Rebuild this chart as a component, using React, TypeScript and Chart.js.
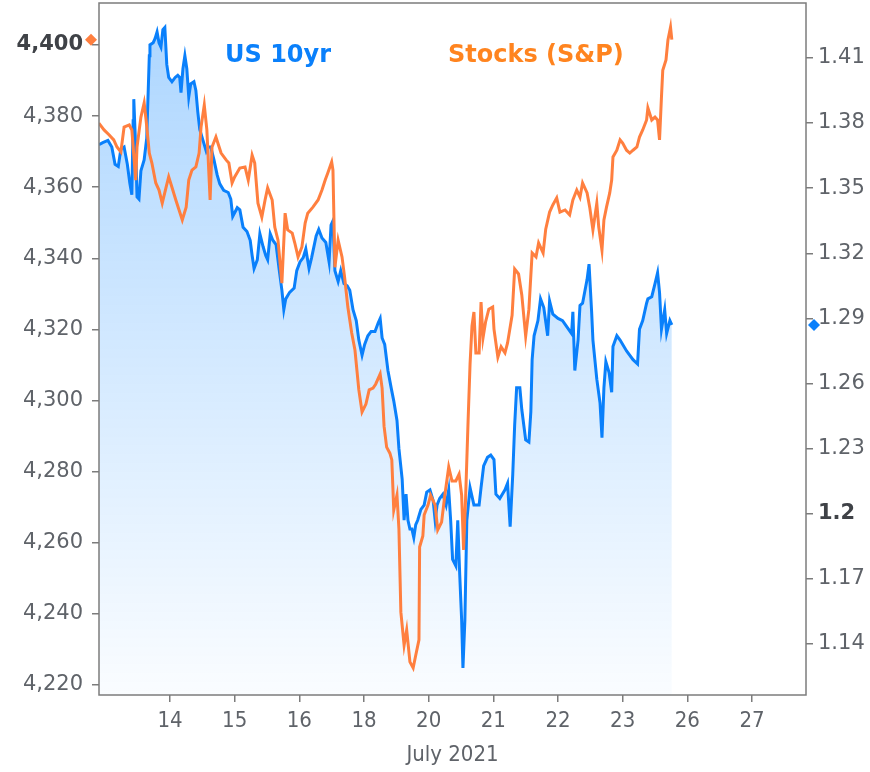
import React, { useEffect, useRef } from 'react';
import { Chart, registerables } from 'chart.js';

Chart.register(...registerables);

// Trading-day positions on the x axis: 0 = "14", 1 = "15", ...
const dayLabels = ['14', '15', '16', '18', '20', '21', '22', '23', '26', '27'];
const axisTitle = 'July 2021';
const seriesNames = ['US 10yr', 'Stocks (S&P)'];

// S&P 500 (left axis): [day position, index level]
const spPoints: [number, number][] = [
  [-1.10, 4378.0], [-1.02, 4376.1], [-0.94, 4374.7], [-0.87, 4373.3], [-0.82, 4371.3], [-0.76, 4369.9], [-0.71, 4376.9], [-0.63, 4377.5], [-0.59, 4376.1], [-0.53, 4362.0],
  [-0.51, 4371.3], [-0.45, 4379.7], [-0.40, 4383.7], [-0.37, 4378.9], [-0.32, 4369.6], [-0.28, 4366.8], [-0.22, 4361.2], [-0.17, 4359.2], [-0.12, 4355.5], [-0.06, 4360.0],
  [-0.02, 4362.9], [0.03, 4360.0], [0.09, 4356.4], [0.14, 4353.6], [0.19, 4350.8], [0.25, 4354.4], [0.29, 4362.0], [0.34, 4364.8], [0.40, 4365.7], [0.45, 4369.6],
  [0.48, 4376.9], [0.53, 4383.1], [0.57, 4376.1], [0.62, 4356.4], [0.65, 4371.3], [0.71, 4374.1], [0.79, 4369.6], [0.87, 4367.6], [0.91, 4366.8], [0.96, 4361.2],
  [1.00, 4362.9], [1.08, 4365.4], [1.16, 4365.7], [1.21, 4362.0], [1.27, 4369.0], [1.31, 4366.8], [1.36, 4355.5], [1.42, 4351.6], [1.47, 4356.4], [1.51, 4359.8],
  [1.58, 4356.4], [1.62, 4348.8], [1.67, 4345.1], [1.73, 4333.0], [1.78, 4352.7], [1.82, 4348.0], [1.89, 4347.1], [1.93, 4344.3], [1.98, 4340.4], [2.04, 4343.2],
  [2.09, 4349.9], [2.13, 4352.7], [2.21, 4354.4], [2.29, 4356.4], [2.35, 4359.2], [2.40, 4362.0], [2.44, 4364.0], [2.50, 4367.1], [2.52, 4364.8], [2.55, 4337.5],
  [2.60, 4345.1], [2.66, 4340.4], [2.70, 4334.7], [2.75, 4326.3], [2.81, 4319.0], [2.86, 4314.2], [2.92, 4303.0], [2.97, 4296.8], [3.03, 4299.0], [3.08, 4303.0],
  [3.14, 4303.5], [3.18, 4304.6], [3.25, 4307.5], [3.28, 4303.5], [3.31, 4292.8], [3.35, 4286.9], [3.40, 4285.2], [3.43, 4283.3], [3.46, 4269.2], [3.51, 4273.4],
  [3.54, 4263.9], [3.57, 4240.5], [3.62, 4231.2], [3.66, 4235.5], [3.71, 4226.5], [3.76, 4224.8], [3.80, 4228.4], [3.85, 4232.7], [3.86, 4258.8], [3.91, 4261.9],
  [3.93, 4267.8], [3.99, 4270.6], [4.03, 4273.4], [4.10, 4270.6], [4.14, 4263.6], [4.20, 4265.8], [4.25, 4273.4], [4.31, 4281.3], [4.36, 4277.4], [4.42, 4277.4],
  [4.47, 4279.3], [4.51, 4273.4], [4.54, 4258.0], [4.57, 4272.0], [4.61, 4294.5], [4.64, 4310.3], [4.67, 4321.0], [4.70, 4324.9], [4.73, 4313.4], [4.78, 4313.4],
  [4.81, 4327.7], [4.84, 4317.6], [4.88, 4322.1], [4.93, 4325.7], [4.99, 4326.3], [5.01, 4320.1], [5.07, 4312.2], [5.12, 4315.1], [5.18, 4313.4], [5.22, 4316.2],
  [5.29, 4324.0], [5.33, 4337.0], [5.39, 4335.6], [5.44, 4329.7], [5.50, 4318.1], [5.55, 4325.7], [5.60, 4341.5], [5.66, 4340.4], [5.70, 4344.3], [5.77, 4341.5],
  [5.81, 4348.2], [5.87, 4353.0], [5.92, 4355.0], [5.98, 4357.0], [6.03, 4353.0], [6.11, 4353.6], [6.18, 4352.2], [6.23, 4356.4], [6.29, 4359.2], [6.34, 4357.2],
  [6.38, 4361.2], [6.45, 4358.4], [6.49, 4354.4], [6.54, 4348.0], [6.60, 4355.5], [6.63, 4348.8], [6.68, 4342.3], [6.71, 4350.8], [6.75, 4354.4], [6.80, 4358.4],
  [6.83, 4362.0], [6.85, 4368.5], [6.91, 4370.4], [6.96, 4373.3], [7.00, 4372.4], [7.06, 4370.4], [7.11, 4369.6], [7.16, 4370.4], [7.22, 4371.3], [7.26, 4374.1],
  [7.31, 4376.1], [7.37, 4378.9], [7.39, 4382.3], [7.45, 4378.9], [7.50, 4379.7], [7.54, 4378.9], [7.57, 4373.3], [7.60, 4385.4], [7.62, 4392.9], [7.67, 4395.8],
  [7.70, 4401.4], [7.74, 4405.0], [7.76, 4401.5],
];

// US 10yr yield (right axis): [day position, yield %]
const tyPoints: [number, number][] = [
  [-1.10, 1.370], [-1.04, 1.371], [-0.96, 1.372], [-0.90, 1.369], [-0.85, 1.361], [-0.80, 1.360], [-0.76, 1.368], [-0.71, 1.369], [-0.66, 1.361], [-0.62, 1.352],
  [-0.59, 1.347], [-0.57, 1.381], [-0.56, 1.391], [-0.53, 1.368], [-0.51, 1.346], [-0.48, 1.345], [-0.45, 1.358], [-0.40, 1.363], [-0.36, 1.373], [-0.32, 1.411],
  [-0.31, 1.416], [-0.26, 1.417], [-0.23, 1.419], [-0.20, 1.422], [-0.17, 1.417], [-0.14, 1.415], [-0.11, 1.423], [-0.08, 1.424], [-0.05, 1.407], [-0.02, 1.401],
  [0.03, 1.399], [0.08, 1.401], [0.12, 1.402], [0.15, 1.401], [0.17, 1.394], [0.20, 1.405], [0.23, 1.411], [0.26, 1.405], [0.29, 1.392], [0.32, 1.398],
  [0.37, 1.399], [0.40, 1.395], [0.43, 1.385], [0.46, 1.377], [0.51, 1.372], [0.56, 1.367], [0.59, 1.369], [0.63, 1.369], [0.68, 1.363], [0.73, 1.356],
  [0.77, 1.352], [0.83, 1.349], [0.90, 1.348], [0.94, 1.345], [0.97, 1.337], [1.04, 1.341], [1.08, 1.340], [1.13, 1.332], [1.19, 1.330], [1.24, 1.326],
  [1.27, 1.319], [1.30, 1.313], [1.35, 1.317], [1.39, 1.329], [1.44, 1.323], [1.48, 1.319], [1.51, 1.317], [1.55, 1.329], [1.59, 1.326], [1.64, 1.324],
  [1.69, 1.312], [1.73, 1.303], [1.76, 1.294], [1.79, 1.299], [1.85, 1.302], [1.92, 1.304], [1.96, 1.312], [2.01, 1.316], [2.06, 1.318], [2.10, 1.322],
  [2.15, 1.313], [2.19, 1.318], [2.26, 1.328], [2.30, 1.331], [2.35, 1.327], [2.41, 1.325], [2.46, 1.316], [2.49, 1.333], [2.52, 1.335], [2.55, 1.312],
  [2.60, 1.307], [2.64, 1.312], [2.69, 1.306], [2.74, 1.305], [2.78, 1.303], [2.83, 1.294], [2.88, 1.289], [2.92, 1.280], [2.97, 1.273], [3.01, 1.278],
  [3.06, 1.282], [3.11, 1.284], [3.17, 1.284], [3.22, 1.288], [3.25, 1.290], [3.28, 1.281], [3.32, 1.278], [3.37, 1.266], [3.42, 1.258], [3.46, 1.252],
  [3.51, 1.243], [3.54, 1.230], [3.59, 1.216], [3.62, 1.197], [3.65, 1.209], [3.68, 1.197], [3.71, 1.193], [3.74, 1.193], [3.77, 1.189], [3.80, 1.195],
  [3.83, 1.197], [3.88, 1.202], [3.93, 1.204], [3.97, 1.210], [4.02, 1.211], [4.07, 1.206], [4.10, 1.197], [4.13, 1.204], [4.17, 1.207], [4.22, 1.209],
  [4.27, 1.204], [4.31, 1.211], [4.34, 1.197], [4.37, 1.179], [4.42, 1.176], [4.45, 1.197], [4.48, 1.172], [4.51, 1.151], [4.53, 1.129], [4.56, 1.151],
  [4.59, 1.197], [4.64, 1.212], [4.70, 1.204], [4.78, 1.204], [4.81, 1.212], [4.85, 1.222], [4.91, 1.226], [4.96, 1.227], [5.01, 1.225], [5.04, 1.209],
  [5.10, 1.207], [5.18, 1.211], [5.22, 1.214], [5.26, 1.194], [5.30, 1.218], [5.33, 1.241], [5.36, 1.258], [5.41, 1.258], [5.44, 1.248], [5.50, 1.234],
  [5.55, 1.233], [5.58, 1.247], [5.60, 1.271], [5.63, 1.282], [5.69, 1.289], [5.73, 1.299], [5.78, 1.295], [5.84, 1.282], [5.87, 1.298], [5.92, 1.292],
  [6.00, 1.290], [6.07, 1.289], [6.14, 1.286], [6.21, 1.283], [6.23, 1.293], [6.26, 1.266], [6.31, 1.280], [6.34, 1.296], [6.38, 1.297], [6.45, 1.308],
  [6.48, 1.315], [6.52, 1.293], [6.54, 1.280], [6.60, 1.262], [6.65, 1.251], [6.68, 1.235], [6.71, 1.258], [6.74, 1.270], [6.79, 1.265], [6.83, 1.256],
  [6.85, 1.277], [6.91, 1.282], [6.96, 1.280], [7.06, 1.275], [7.16, 1.271], [7.23, 1.269], [7.26, 1.285], [7.31, 1.289], [7.37, 1.297], [7.39, 1.299],
  [7.45, 1.300], [7.50, 1.306], [7.54, 1.311], [7.57, 1.302], [7.60, 1.285], [7.65, 1.294], [7.68, 1.283], [7.73, 1.289], [7.76, 1.287],
];

const BLUE = '#0a80fb';
const ORANGE = '#ff7f3f';
const ORANGE_TEXT = '#ff841f';
const LABEL = '#5f6369';
const LABEL_BOLD = '#3f4247';
const FRAME = '#7c7c7c';
const TICK_FONT = "'DejaVu Sans', Verdana, sans-serif";
const X_FONT = "'Liberation Sans Narrow', 'DejaVu Sans Condensed', 'Liberation Sans', sans-serif";

function diamond(ctx: CanvasRenderingContext2D, x: number, y: number, r: number, color: string) {
  ctx.beginPath();
  ctx.moveTo(x, y - r);
  ctx.lineTo(x + r, y);
  ctx.lineTo(x, y + r);
  ctx.lineTo(x - r, y);
  ctx.closePath();
  ctx.fillStyle = color;
  ctx.fill();
}

const fitY = (w: number) => (s: any) => {
  s.width = w;
  s.paddingTop = 0;
  s.paddingBottom = 0;
};

export default function App() {
  const ref = useRef<HTMLCanvasElement>(null);

  useEffect(() => {
    const canvas = ref.current;
    if (!canvas) return;

    const overlay = {
      id: 'overlay',
      afterDraw(chart: any) {
        const { ctx, chartArea: a, scales } = chart;
        ctx.save();
        ctx.strokeStyle = FRAME;
        ctx.lineWidth = 1.5;
        ctx.strokeRect(a.left, a.top, a.right - a.left, a.bottom - a.top);

        ctx.font = "bold 24px 'DejaVu Sans', Verdana, sans-serif";
        ctx.textBaseline = 'alphabetic';
        ctx.textAlign = 'left';
        ctx.fillStyle = BLUE;
        ctx.fillText(seriesNames[0], a.left + 126, a.top + 59);
        ctx.fillStyle = ORANGE_TEXT;
        ctx.fillText(seriesNames[1], a.left + 349, a.top + 59);

        const lastSp = spPoints[spPoints.length - 1][1];
        const lastTy = tyPoints[tyPoints.length - 1][1];
        diamond(ctx, a.left - 8, scales.ySp.getPixelForValue(lastSp), 6, ORANGE);
        diamond(ctx, a.right + 8, scales.yTy.getPixelForValue(lastTy), 6, BLUE);
        ctx.restore();
      },
    };

    const chart = new Chart(canvas, {
      type: 'line',
      data: {
        datasets: [
          {
            label: seriesNames[1],
            data: spPoints.map(([x, y]) => ({ x, y })),
            yAxisID: 'ySp',
            borderColor: ORANGE,
            borderWidth: 3,
            pointRadius: 0,
            tension: 0,
            fill: false,
            order: 0,
          },
          {
            label: seriesNames[0],
            data: tyPoints.map(([x, y]) => ({ x, y })),
            yAxisID: 'yTy',
            borderColor: BLUE,
            borderWidth: 3,
            pointRadius: 0,
            tension: 0,
            fill: 'start',
            backgroundColor: (c: any) => {
              const ch = c.chart;
              const a = ch.chartArea;
              if (!a) return 'rgba(0,128,255,0.2)';
              const g = ch.ctx.createLinearGradient(0, a.top, 0, a.bottom);
              g.addColorStop(0, 'rgba(0,128,255,0.33)');
              g.addColorStop(1, 'rgba(0,128,255,0.02)');
              return g;
            },
            order: 1,
          },
        ],
      },
      options: {
        animation: false,
        responsive: true,
        maintainAspectRatio: false,
        devicePixelRatio: 1,
        parsing: false as any,
        normalized: true,
        layout: { autoPadding: false, padding: { top: 3, left: 0, right: 0, bottom: 0 } },
        plugins: {
          legend: { display: false },
          tooltip: { enabled: false },
        },
        scales: {
          x: {
            type: 'linear',
            min: -1.098,
            max: 9.835,
            afterBuildTicks: (s: any) => {
              s.ticks = dayLabels.map((_, i) => ({ value: i }));
            },
            afterFit: (s: any) => {
              s.height = 77;
              s.paddingLeft = 0;
              s.paddingRight = 0;
            },
            ticks: {
              autoSkip: false,
              maxRotation: 0,
              padding: 6,
              color: LABEL,
              font: { family: X_FONT, size: 22 },
              callback: (v: any) => dayLabels[Math.round(Number(v))] ?? '',
            },
            grid: { drawOnChartArea: false, drawTicks: true, tickLength: 7, color: FRAME, lineWidth: 1.5 },
            border: { display: false },
            title: {
              display: true,
              text: axisTitle,
              color: LABEL,
              font: { family: X_FONT, size: 22 },
              padding: { top: 0, bottom: 4 },
            },
          },
          ySp: {
            type: 'linear',
            position: 'left',
            min: 4217.2,
            max: 4411.8,
            afterFit: fitY(99),
            ticks: {
              stepSize: 20,
              maxTicksLimit: 20,
              includeBounds: false,
              padding: 9,
              color: (c: any) => (c.tick && c.tick.value === 4400 ? LABEL_BOLD : LABEL),
              font: (c: any) => ({
                family: TICK_FONT,
                size: 21,
                weight: c.tick && c.tick.value === 4400 ? 'bold' : 'normal',
              }),
              callback: (v: any) => Number(v).toLocaleString('en-US'),
            },
            grid: { drawOnChartArea: false, drawTicks: true, tickLength: 7, color: FRAME, lineWidth: 1.5 },
            border: { display: false },
          },
          yTy: {
            type: 'linear',
            position: 'right',
            min: 1.1165,
            max: 1.4353,
            afterFit: fitY(64),
            ticks: {
              stepSize: 0.03,
              maxTicksLimit: 20,
              includeBounds: false,
              padding: 5,
              color: (c: any) => (c.tick && Math.abs(c.tick.value - 1.2) < 1e-6 ? LABEL_BOLD : LABEL),
              font: (c: any) => ({
                family: TICK_FONT,
                size: 21,
                weight: c.tick && Math.abs(c.tick.value - 1.2) < 1e-6 ? 'bold' : 'normal',
              }),
              callback: (v: any) => String(Number(Number(v).toFixed(2))),
            },
            grid: { drawOnChartArea: false, drawTicks: true, tickLength: 7, color: FRAME, lineWidth: 1.5 },
            border: { display: false },
          },
        },
      } as any,
      plugins: [overlay],
    });

    return () => {
      chart.destroy();
    };
  }, []);

  return (
    <div style={{ position: 'fixed', left: 0, top: 0, width: 870, height: 772, background: '#fff' }}>
      <canvas ref={ref} />
    </div>
  );
}
